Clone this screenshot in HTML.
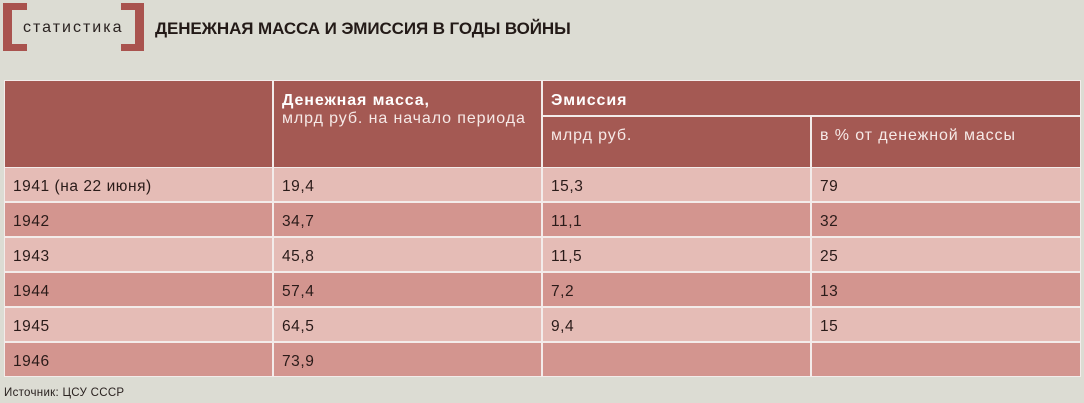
<!DOCTYPE html>
<html>
<head>
<meta charset="utf-8">
<style>
  html, body { margin:0; padding:0; }
  body { width:1084px; height:403px; background:#dcdcd3; position:relative; overflow:hidden;
         font-family:"Liberation Sans","Noto Sans CJK SC",sans-serif; }
  .abs { position:absolute; white-space:nowrap; }
  .br { position:absolute; background:#a9534e; }
  .tbl { position:absolute; left:4px; top:80px; width:1077px; height:297px; background:#f3ecea; }
  .c { position:absolute; }
  .h { background:#a45953; }
  .l { background:#e5bcb6; }
  .d { background:#d3958f; }
  .t { position:absolute; font-size:15.5px; line-height:20px; letter-spacing:0.55px; color:#2a1b19; white-space:nowrap; }
  .hb { position:absolute; font-size:16px; line-height:16px; font-weight:bold; letter-spacing:0.9px; color:#fff; white-space:nowrap; }
  .hl { position:absolute; font-size:16px; line-height:16px; letter-spacing:0.9px; color:#f6e9e7; white-space:nowrap; }
</style>
</head>
<body>
  <!-- bracket logo -->
  <div class="br" style="left:3px;top:3px;width:9px;height:48px;"></div>
  <div class="br" style="left:3px;top:3px;width:24px;height:7px;"></div>
  <div class="br" style="left:3px;top:44px;width:24px;height:7px;"></div>
  <div class="br" style="left:135px;top:3px;width:9px;height:48px;"></div>
  <div class="br" style="left:121px;top:3px;width:23px;height:7px;"></div>
  <div class="br" style="left:121px;top:44px;width:23px;height:7px;"></div>
  <div class="abs" style="left:23px;top:18px;font-size:16px;line-height:20px;letter-spacing:2px;color:#2a2220;">статистика</div>

  <div class="abs" style="left:155px;top:19px;font-size:17px;line-height:20px;font-weight:bold;letter-spacing:-0.1px;color:#231a17;">ДЕНЕЖНАЯ МАССА И ЭМИССИЯ В ГОДЫ ВОЙНЫ</div>

  <!-- table -->
  <div class="tbl"></div>
  <!-- header cells -->
  <div class="c h" style="left:5px;top:81px;width:267px;height:86px;"></div>
  <div class="c h" style="left:274px;top:81px;width:267px;height:86px;"></div>
  <div class="c h" style="left:543px;top:81px;width:537px;height:34px;"></div>
  <div class="c h" style="left:543px;top:117px;width:267px;height:50px;"></div>
  <div class="c h" style="left:812px;top:117px;width:268px;height:50px;"></div>

  <!-- data rows -->
  <div class="c l" style="left:5px;top:168px;width:267px;height:33px;"></div>
  <div class="c l" style="left:274px;top:168px;width:267px;height:33px;"></div>
  <div class="c l" style="left:543px;top:168px;width:267px;height:33px;"></div>
  <div class="c l" style="left:812px;top:168px;width:268px;height:33px;"></div>

  <div class="c d" style="left:5px;top:203px;width:267px;height:33px;"></div>
  <div class="c d" style="left:274px;top:203px;width:267px;height:33px;"></div>
  <div class="c d" style="left:543px;top:203px;width:267px;height:33px;"></div>
  <div class="c d" style="left:812px;top:203px;width:268px;height:33px;"></div>

  <div class="c l" style="left:5px;top:238px;width:267px;height:33px;"></div>
  <div class="c l" style="left:274px;top:238px;width:267px;height:33px;"></div>
  <div class="c l" style="left:543px;top:238px;width:267px;height:33px;"></div>
  <div class="c l" style="left:812px;top:238px;width:268px;height:33px;"></div>

  <div class="c d" style="left:5px;top:273px;width:267px;height:33px;"></div>
  <div class="c d" style="left:274px;top:273px;width:267px;height:33px;"></div>
  <div class="c d" style="left:543px;top:273px;width:267px;height:33px;"></div>
  <div class="c d" style="left:812px;top:273px;width:268px;height:33px;"></div>

  <div class="c l" style="left:5px;top:308px;width:267px;height:33px;"></div>
  <div class="c l" style="left:274px;top:308px;width:267px;height:33px;"></div>
  <div class="c l" style="left:543px;top:308px;width:267px;height:33px;"></div>
  <div class="c l" style="left:812px;top:308px;width:268px;height:33px;"></div>

  <div class="c d" style="left:5px;top:343px;width:267px;height:33px;"></div>
  <div class="c d" style="left:274px;top:343px;width:267px;height:33px;"></div>
  <div class="c d" style="left:543px;top:343px;width:267px;height:33px;"></div>
  <div class="c d" style="left:812px;top:343px;width:268px;height:33px;"></div>

  <!-- header text -->
  <div class="hb" style="left:282px;top:92.5px;">Денежная масса,</div>
  <div class="hl" style="left:282px;top:110.5px;">млрд руб. на начало периода</div>
  <div class="hb" style="left:551px;top:93px;">Эмиссия</div>
  <div class="hl" style="left:551px;top:128px;">млрд руб.</div>
  <div class="hl" style="left:820px;top:128px;">в % от денежной массы</div>

  <!-- data text -->
  <div class="t" style="left:13px;top:177px;">1941 (на 22 июня)</div>
  <div class="t" style="left:282px;top:177px;">19,4</div>
  <div class="t" style="left:551px;top:177px;">15,3</div>
  <div class="t" style="left:820px;top:177px;">79</div>

  <div class="t" style="left:13px;top:212px;">1942</div>
  <div class="t" style="left:282px;top:212px;">34,7</div>
  <div class="t" style="left:551px;top:212px;">11,1</div>
  <div class="t" style="left:820px;top:212px;">32</div>

  <div class="t" style="left:13px;top:247px;">1943</div>
  <div class="t" style="left:282px;top:247px;">45,8</div>
  <div class="t" style="left:551px;top:247px;">11,5</div>
  <div class="t" style="left:820px;top:247px;">25</div>

  <div class="t" style="left:13px;top:282px;">1944</div>
  <div class="t" style="left:282px;top:282px;">57,4</div>
  <div class="t" style="left:551px;top:282px;">7,2</div>
  <div class="t" style="left:820px;top:282px;">13</div>

  <div class="t" style="left:13px;top:317px;">1945</div>
  <div class="t" style="left:282px;top:317px;">64,5</div>
  <div class="t" style="left:551px;top:317px;">9,4</div>
  <div class="t" style="left:820px;top:317px;">15</div>

  <div class="t" style="left:13px;top:352px;">1946</div>
  <div class="t" style="left:282px;top:352px;">73,9</div>

  <div class="abs" style="left:4px;top:386px;font-size:11.5px;line-height:14px;letter-spacing:0.3px;color:#2a2220;">Источник: ЦСУ СССР</div>
</body>
</html>
